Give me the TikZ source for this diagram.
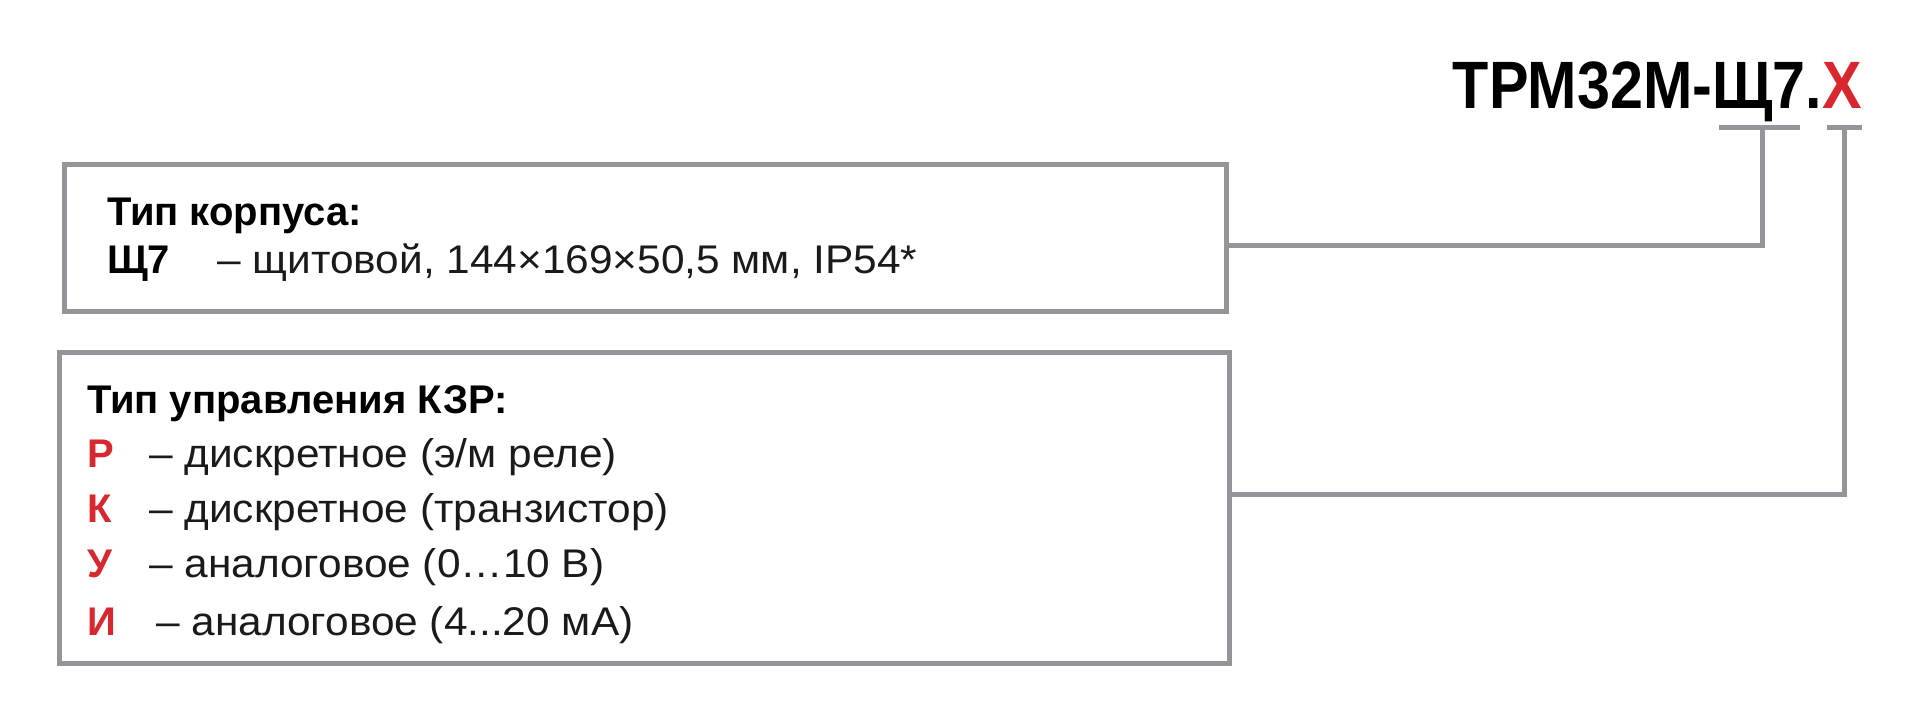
\documentclass[tikz,border=0pt]{standalone}
\usepackage{fontspec}
\setmainfont[FakeStretch=1.06, BoldFeatures={FakeStretch=1.0}]{Liberation Sans}
\newfontfamily\titlefont[FakeStretch=0.885]{Liberation Sans}
\usepackage{tikz}
\usetikzlibrary{positioning, calc}
\definecolor{frame}{HTML}{939598}
\definecolor{keyred}{HTML}{D7282F}
\definecolor{ink}{HTML}{1A1A1A}

\begin{document}
\begin{tikzpicture}[x=1pt, y=-1pt,
      box/.style={draw=frame, line width=5pt, outer sep=0pt, inner sep=0pt},
      txt/.style={anchor=base west, inner sep=0pt, text=ink,
        font=\fontsize{40}{48}\selectfont},
      hdr/.style={txt, text=black, font=\fontsize{40}{48}\selectfont\bfseries},
      key/.style={txt, text=keyred, font=\fontsize{40}{48}\selectfont\bfseries},
      conn/.style={draw=frame, line width=5pt}]

    \useasboundingbox (0,0) rectangle (1920,720);

    % title
    \node[anchor=base east, inner sep=0pt,
      font=\titlefont\fontsize{67}{70}\selectfont\bfseries]
      (title) at (1862,108) {ТРМ32М-Щ7.\textcolor{keyred}{Х}};

    \coordinate (u1l) at (1719,127.5);
    \coordinate (u1r) at (1800,127.5);
    \coordinate (u1) at (1762.5,127.5);
    \coordinate (u2l) at (1827,127.5);
    \coordinate (u2r) at (1862,127.5);
    \coordinate (u2) at (1844.5,127.5);

    % boxes
    \node[box, minimum width=1162.5pt, minimum height=146.3pt]
      (case) at (645.25,237.85) {};
    \node[box, minimum width=1170pt, minimum height=310.5pt]
      (ctrl) at (644.5,507.75) {};

    \node[hdr] (caseh) at (107,225) {Тип корпуса:};
    \node[hdr] (casek) at (107,273) {Щ7};
    \node[txt] (cased) at (217,273) {– щитовой, 144×169×50,5 мм, IP54*};

    \node[hdr] (ctrlh) at (87,413) {Тип управления КЗР:};
    \node[key] (kp) at (87,467) {Р};
    \node[txt] (dp) at (149,467) {– дискретное (э/м реле)};
    \node[key] (kk) at (87,522) {К};
    \node[txt] (dk) at (149,522) {– дискретное (транзистор)};
    \node[key] (ku) at (87,577) {У};
    \node[txt] (du) at (149,577) {– аналоговое (0…10 В)};
    \node[key] (ki) at (87,635) {И};
    \node[txt] (di) at (156,635) {– аналоговое (4...20 мА)};

    % connectors
    \draw[conn] (u1l) -- (u1r);
    \draw[conn] (u2l) -- (u2r);
    \draw[conn] (u1) |- ($(case.east)+(0,7.6)$);
    \draw[conn] (u2) |- ($(ctrl.east)+(0,-13.7)$);
  \end{tikzpicture}
\end{document}
